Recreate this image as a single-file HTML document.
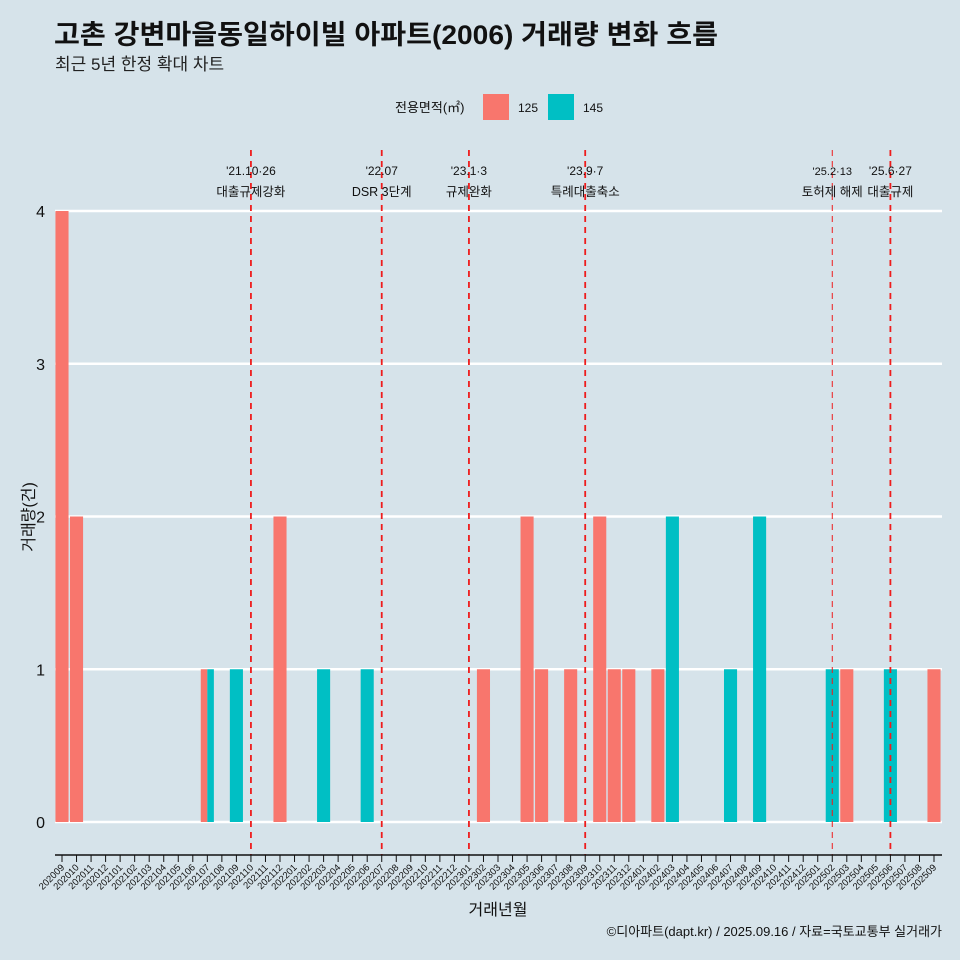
<!DOCTYPE html>
<html><head><meta charset="utf-8">
<style>
html,body{margin:0;padding:0;width:960px;height:960px;overflow:hidden;background:#d6e3ea;font-family:"Liberation Sans","Noto Sans CJK KR",sans-serif;}
svg{display:block}
svg text{font-family:"Liberation Sans","Noto Sans CJK KR",sans-serif;}
</style></head>
<body>
<svg id="chart" width="960" height="960" xmlns="http://www.w3.org/2000/svg">
<rect width="960" height="960" fill="#d6e3ea"/>
<text x="54" y="44" font-size="27" font-weight="bold" fill="#111" textLength="664" lengthAdjust="spacingAndGlyphs">고촌 강변마을동일하이빌 아파트(2006) 거래량 변화 흐름</text>
<text x="55" y="70" font-size="17" fill="#222">최근 5년 한정 확대 차트</text>
<g>
<text x="395" y="112" font-size="13" fill="#111">전용면적(㎡)</text>
<rect x="483" y="94" width="26" height="26" fill="#f8766d"/>
<text x="518" y="112" font-size="12" fill="#111">125</text>
<rect x="548" y="94" width="26" height="26" fill="#00bfc4"/>
<text x="583" y="112" font-size="12" fill="#111">145</text>
</g>
<g id="grid"></g><g id="bars"></g><g id="events"></g><g id="axes"></g>
<text x="498" y="915" font-size="16" text-anchor="middle" fill="#111">거래년월</text>
<text transform="translate(34,517) rotate(-90)" font-size="16" text-anchor="middle" fill="#111">거래량(건)</text>
<text x="942" y="936" font-size="13" text-anchor="end" fill="#111">©디아파트(dapt.kr) / 2025.09.16 / 자료=국토교통부 실거래가</text>
</svg>
<script>
const months=[];
for(let y=2020,m=9;!(y===2025&&m===10);){months.push(''+y+(m<10?'0':'')+m);m++;if(m>12){m=1;y++;}}
const series=['125','145'];
const vals125={'202009':4,'202010':2,'202107':1,'202112':2,'202302':1,'202305':2,'202306':1,'202308':1,'202310':2,'202311':1,'202312':1,'202402':1,'202503':1,'202509':1};
const vals145={'202107':1,'202109':1,'202203':1,'202206':1,'202403':2,'202407':1,'202409':2,'202502':1,'202506':1};
const yTicks=[0,1,2,3,4];
const eventMonths=['202110','202207','202301','202309','202502','202506'];
const eventLabel1=["'21.10·26","'22.07","'23.1·3","'23.9·7","'25.2·13","'25.6·27"];
const eventLabel2=['대출규제강화','DSR 3단계','규제완화','특례대출축소','토허제 해제','대출규제'];
const colors={'125':'#f8766d','145':'#00bfc4'};
const NS='http://www.w3.org/2000/svg';
const x0=62,step=(934-62)/60,y0=822,yUnit=(822-211)/4;
const xs=i=>x0+i*step, ys=v=>y0-v*yUnit;
function mk(tag,attrs,parent){const e=document.createElementNS(NS,tag);for(const k in attrs)e.setAttribute(k,attrs[k]);parent.appendChild(e);return e;}
const grid=document.getElementById('grid'),bars=document.getElementById('bars'),ev=document.getElementById('events'),ax=document.getElementById('axes');
yTicks.forEach(t=>{
 const l=mk('line',{x1:55,x2:942,y1:ys(t),y2:ys(t),stroke:'#fff','stroke-width':2.6},grid);
 
 
 const tx=mk('text',{x:45,y:ys(t)+6,'font-size':16,'text-anchor':'end',fill:'#111'},ax);
 tx.textContent=t;
 
 
});
const bw=step*0.9;
months.forEach((m,i)=>{
 const a=vals125[m]||0,b=vals145[m]||0;
 const both=a>0&&b>0;
 const list=[['125',a],['145',b]].filter(d=>d[1]>0);
 list.forEach((d,k)=>{
  const w=both?bw/2:bw;
  const x=both?xs(i)-bw/2+k*w:xs(i)-bw/2;
  const r=mk('rect',{x:x,y:ys(d[1]),width:w,height:d[1]*yUnit,fill:colors[d[0]]},bars);
  
  
 });
 const tk=mk('line',{x1:xs(i),x2:xs(i),y1:855,y2:862,stroke:'#111','stroke-width':1},ax);
 
 
 const lb=mk('text',{transform:`translate(${xs(i)+3},868) rotate(-45)`,'font-size':9.5,'text-anchor':'end',fill:'#111'},ax);
 lb.textContent=m;
 
 
});
const al=mk('line',{x1:55,x2:942,y1:855,y2:855,stroke:'#111','stroke-width':1.5},ax);


eventMonths.forEach((d,i)=>{
 const x=xs(months.indexOf(d));const thin=i===4;
 const l=mk('line',{x1:x,x2:x,y1:150,y2:855,stroke:'#ee1c1c','stroke-width':thin?1:1.8,'stroke-dasharray':'6,5'},ev);
 
 
 const t1=mk('text',{x:x,y:175,'font-size':thin?11:12,'text-anchor':'middle',fill:'#111'},ev);
 t1.textContent=eventLabel1[i];
 
 
 const t2=mk('text',{x:x,y:196,'font-size':12.5,'text-anchor':'middle',fill:'#111'},ev);
 t2.textContent=eventLabel2[i];
 
 
});
</script>
</body></html>
